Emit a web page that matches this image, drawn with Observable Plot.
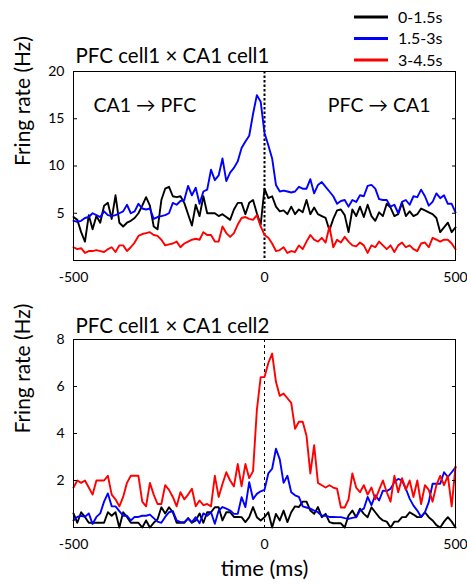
<!DOCTYPE html>
<html><head><meta charset="utf-8">
<script src="https://cdn.jsdelivr.net/npm/d3@7"></script>
<script src="https://cdn.jsdelivr.net/npm/@observablehq/plot@0.6"></script>
<style>
body{margin:0;background:#fff;}
#wrap{position:relative;width:467px;height:585px;font-family:Lato, sans-serif;}
#p1{position:absolute;left:0;top:0;}
#p2{position:absolute;left:0;top:300px;}
#legend{position:absolute;left:0;top:0;}
</style></head><body>
<div id="wrap"><div id="p1"></div><div id="p2"></div><svg id="legend" width="467" height="75"></svg></div>
<script>
const timeMs = [-500,-490,-480,-470,-460,-450,-440,-430,-420,-410,-400,-390,-380,-370,-360,-350,-340,-330,-320,-310,-300,-290,-280,-270,-260,-250,-240,-230,-220,-210,-200,-190,-180,-170,-160,-150,-140,-130,-120,-110,-100,-90,-80,-70,-60,-50,-40,-30,-20,-10,0,10,20,30,40,50,60,70,80,90,100,110,120,130,140,150,160,170,180,190,200,210,220,230,240,250,260,270,280,290,300,310,320,330,340,350,360,370,380,390,400,410,420,430,440,450,460,470,480,490,500];
const seriesNames = ["0-1.5s", "1.5-3s", "3-4.5s"];
const seriesColors = ["#000000", "#0000ff", "#ff0000"];
const xTicks = [-500, 0, 500];
const p1YTicks = [5, 10, 15, 20];
const p2YTicks = [2, 4, 6, 8];

// Panel 1: PFC cell1 x CA1 cell1
const p1Black = [4.6,4.3,3.0,2.0,4.8,3.3,4.7,4.0,5.8,6.1, 4.4,6.9,4.0,3.6,4.0,4.2,4.5,5.0,5.8,6.7, 5.8,3.6,3.3,6.4,7.6,7.8,6.8,6.7,6.8,6.1, 4.9,3.7,5.9,4.7,6.8,5.0,5.0,5.0,4.7,4.9, 4.6,4.3,5.4,6.1,6.1,4.9,6.1,6.4,5.0,3.8, 7.6, 6.6,6.8,5.7,5.2,5.3,4.9,5.7,4.9,5.4,5.1, 6.4,4.9,5.6,4.9,4.7,4.5,3.2,4.4,5.3,5.4, 4.8,3.0,5.4,4.7,5.7,4.6,5.9,4.7,4.2,5.1, 4.7,6.0,5.6,4.7,4.9,6.1,4.7,5.2,4.7,4.9, 5.5,5.3,5.1,4.9,4.5,3.0,3.5,4.0,3.0,3.5];
const p1Blue = [4.2,4.1,4.2,4.5,4.6,5.0,4.8,4.6,5.2,4.8, 4.7,4.8,5.0,5.2,5.9,5.0,5.2,6.0,5.5,5.4, 5.5,4.4,4.6,4.7,4.8,5.0,6.1,5.9,6.3,6.4, 7.9,6.9,7.7,6.0,7.3,7.5,9.6,8.5,9.0,10.8, 8.4,9.3,9.8,10.5,11.9,12.6,13.2,15.5,17.5,16.8, 13.5, 12.2,10.8,8.0,7.3,7.4,7.3,7.2,7.3,7.8,7.6, 7.6,8.6,7.1,8.0,8.3,7.8,7.3,6.8,6.0,6.3, 6.4,5.7,6.4,6.2,6.9,6.8,7.9,8.0,7.6,6.5, 6.4,6.4,5.7,5.9,5.0,6.2,6.4,5.9,6.8,6.7, 7.5,6.8,5.8,6.2,7.1,6.6,6.9,6.0,6.0,5.1];
const p1Red = [1.4,1.2,1.3,0.8,1.0,1.0,1.1,1.0,0.9,1.2, 1.4,0.9,1.6,1.6,1.0,1.4,1.9,2.6,2.8,2.9, 3.0,2.7,2.6,2.2,1.6,1.7,1.8,2.0,1.4,1.8, 2.0,2.2,2.3,2.2,3.0,2.7,2.7,2.0,2.0,3.6, 2.9,2.5,2.9,3.8,4.5,4.6,4.4,4.3,4.8,3.6, 2.7, 2.4,1.8,1.0,1.1,1.4,0.8,1.0,0.9,1.6,1.2, 2.0,2.7,2.2,2.0,2.4,1.9,3.6,1.4,2.2,1.9, 2.5,2.0,1.6,1.5,1.9,1.6,0.8,1.6,1.4,2.0, 1.6,1.2,1.6,0.9,1.6,1.9,1.4,1.6,1.2,1.0, 1.8,1.9,1.4,2.4,2.2,2.0,2.2,2.2,1.8,1.2];

// Panel 2: PFC cell1 x CA1 cell2
const p2Black = [0.6,0.2,0.65,0.45,0.2,0.2,0.2,0.2,0.2,0.65, 0.5,0.65,0.0,0.65,0.45,0.2,0.2,0.2,0.0,0.3, 0.0,0.2,0.35,0.86,0.6,0.86,0.65,0.2,0.2,0.2, 0.4,0.2,0.3,0.6,0.2,0.65,0.65,0.86,0.86,0.3, 0.65,0.65,0.45,0.45,0.44,0.23,0.44,0.87,0.44,0.3, 0.44, 0.65,0.0,0.58,0.3,0.72,0.23,0.65,0.9,0.87,1.1, 1.1,0.72,0.58,0.87,0.44,0.58,0.23,0.18,0.18,0.18, 0.0,0.51,0.72,0.44,0.8,0.58,0.44,0.86,0.65,0.44, 0.3,0.25,0.0,0.25,0.25,0.44,0.44,0.65,0.55,0.44, 0.44,0.65,0.44,0.3,0.1,0.0,0.25,0.44,0.25,0.0];
const p2Blue = [0.3,0.45,0.5,0.45,0.6,0.15,0.45,0.6,1.1,1.45, 0.9,0.9,0.7,0.5,0.5,0.3,0.45,0.45,0.5,0.5, 0.55,0.4,0.25,0.2,0.45,0.65,0.7,0.3,0.23,0.23, 0.37,0.23,0.44,0.18,0.6,0.5,0.65,0.16,0.72,0.87, 0.8,0.72,0.58,0.58,1.29,0.87,1.93,1.21,1.43,1.54, 1.6, 2.3,2.5,3.35,2.9,1.9,2.2,1.5,1.37,1.3,0.9, 0.85,0.8,0.72,0.65,0.5,0.5,0.45,0.45,0.44,0.44, 0.4,0.37,0.41,0.44,0.72,0.8,1.3,0.95,1.37,1.15, 1.57,1.55,1.65,1.93,2.07,2.0,1.65,1.23,0.93,0.72, 0.45,0.65,1.08,1.86,1.86,1.86,2.35,2.15,2.35,2.56];
const p2Red = [1.7,2.0,1.9,2.0,1.7,1.4,2.0,2.0,2.0,2.2, 1.4,1.2,0.9,1.3,1.9,2.2,2.2,2.2,1.1,0.9, 1.9,1.4,1.0,1.0,1.8,1.6,1.3,0.9,1.5,1.2, 1.4,1.65,0.9,1.15,0.95,1.0,0.9,2.2,1.3,1.85, 2.35,2.0,1.75,2.7,1.75,2.7,2.1,2.4,5.0,6.4, 6.4, 7.0,7.4,6.2,5.6,5.7,5.5,5.3,4.2,4.5,4.5, 3.9,2.3,3.5,1.9,1.8,1.7,1.8,1.7,1.65,0.85, 0.85,1.2,2.3,1.7,1.5,1.8,1.4,1.7,1.2,1.6, 2.0,1.5,1.1,2.2,1.5,2.1,1.6,2.0,1.3,2.0, 1.0,1.8,1.6,1.1,1.8,2.2,1.8,2.2,0.9,2.6];

const yLabel = "Fring rate (Hz)";
const xLabel = "time (ms)";
const p1Title = "PFC cell1 \u00d7 CA1 cell1";
const p2Title = "PFC cell1 \u00d7 CA1 cell2";
const p1Notes = ["CA1 \u2192 PFC", "PFC \u2192 CA1"];

function rows(arrs) {
  const out = [];
  arrs.forEach((arr, k) => arr.forEach((v, i) => out.push({t: timeMs[i], v, series: seriesNames[k]})));
  return out;
}

const FONT = "Lato, sans-serif";

function panel(opts) {
  const marks = [
    Plot.ruleX([0], {stroke: "#000", strokeDasharray: opts.dash, strokeWidth: opts.dashWidth}),
    Plot.line(rows(opts.series), {x: "t", y: "v", z: "series", stroke: "series", strokeWidth: 1.9, strokeLinejoin: "round"}),
    Plot.frame({stroke: "#000", strokeWidth: 1}),
    Plot.axisX({ticks: xTicks, tickSize: 0, tickPadding: 12, tickFormat: d => String(d), label: null, fontSize: 14}),
    Plot.axisY({ticks: opts.yTicks, tickSize: -4, tickPadding: 13, tickFormat: d => String(d), label: null, fontSize: 14}),
    Plot.axisY({anchor: "right", ticks: opts.yTicks, tickSize: -4, tickFormat: () => "", label: null}),
    Plot.text([yLabel], {text: d => d, frameAnchor: "left", rotate: -90, dx: -50, fontSize: 21}),
    Plot.text([opts.title], {text: d => d, frameAnchor: "top-left", textAnchor: "start", dx: 2, dy: opts.titleDy, fontSize: 20.5})
  ];
  if (opts.notes) {
    marks.push(Plot.text([opts.notes[0]], {text: d => d, frameAnchor: "top-left", textAnchor: "start", dx: 20, dy: 27, fontSize: 19.5}));
    marks.push(Plot.text([opts.notes[1]], {text: d => d, frameAnchor: "top-right", textAnchor: "end", dx: -25, dy: 27, fontSize: 19.5}));
  }
  if (opts.xLabel) {
    marks.push(Plot.text([opts.xLabel], {text: d => d, frameAnchor: "bottom", dy: 48, fontSize: 22}));
  }
  return Plot.plot({
    width: 467, height: opts.height,
    marginLeft: 73, marginRight: 12, marginTop: opts.marginTop, marginBottom: opts.marginBottom,
    style: {fontFamily: FONT, fontSize: "14px", color: "#000", background: "transparent", overflow: "visible"},
    x: {domain: [-500, 500]},
    y: {domain: opts.yDomain},
    color: {domain: seriesNames, range: seriesColors},
    marks
  });
}

document.getElementById("p1").appendChild(panel({
  height: 300, marginTop: 71, marginBottom: 40, yDomain: [0, 20], yTicks: p1YTicks,
  title: p1Title, titleDy: -23, series: [p1Black, p1Blue, p1Red], notes: p1Notes,
  dash: "2.5,2", dashWidth: 2
}));
document.getElementById("p2").appendChild(panel({
  height: 285, marginTop: 39, marginBottom: 58, yDomain: [0, 8], yTicks: p2YTicks,
  title: p2Title, titleDy: -21, series: [p2Black, p2Blue, p2Red],
  dash: "3,3", dashWidth: 1, xLabel: xLabel
}));

// legend
const lg = d3.select("#legend");
seriesNames.forEach((name, k) => {
  const y = 17 + 21.5 * k;
  lg.append("line").attr("x1", 354).attr("x2", 388).attr("y1", y).attr("y2", y)
    .attr("stroke", seriesColors[k]).attr("stroke-width", 3);
  lg.append("text").attr("x", 398).attr("y", y).attr("dy", "0.35em")
    .attr("font-family", FONT).attr("font-size", 16).text(name);
});
</script>
</body></html>
